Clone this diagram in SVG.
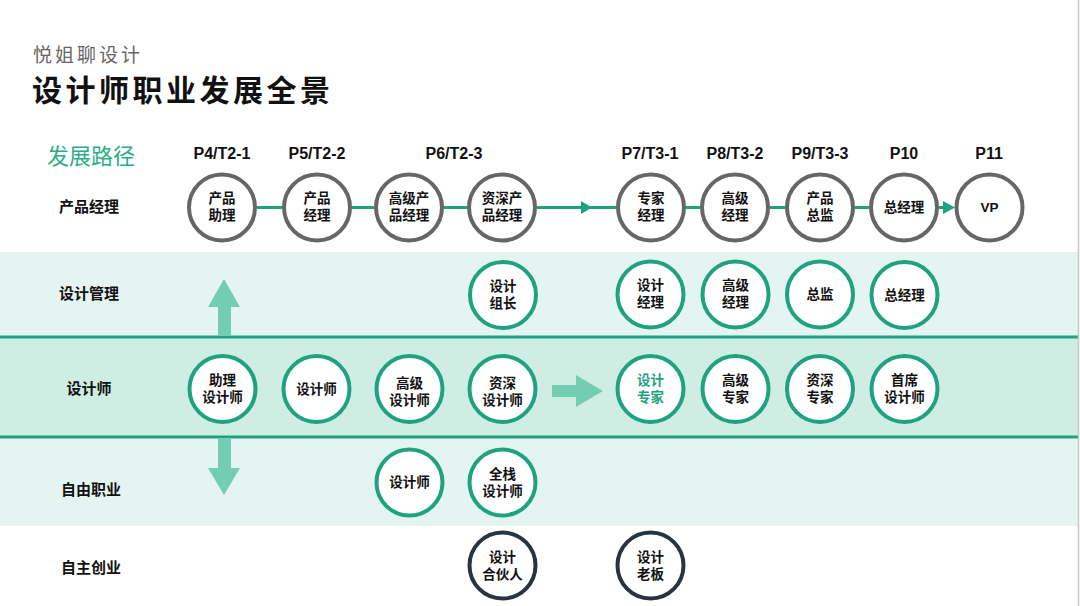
<svg xmlns="http://www.w3.org/2000/svg" width="1080" height="606" viewBox="0 0 1080 606">
<defs>
<style>
text{font-family:"Liberation Sans","Noto Sans CJK SC",sans-serif;}
.t{font-size:13.5px;font-weight:bold;fill:#111;text-anchor:middle;}
.hd{font-size:16px;font-weight:bold;fill:#111;text-anchor:middle;}
.rl{font-size:15px;font-weight:bold;fill:#111;text-anchor:middle;}
.pm{fill:#fff;stroke:#666;stroke-width:4;}
.ds{fill:#fff;stroke:#1FA37F;stroke-width:4;}
.bz{fill:#fff;stroke:#2A3440;stroke-width:4;}
.ln{stroke:#1FA37F;stroke-width:3;fill:none;}
.big{fill:#72CDB1;}
</style>
</defs>
<rect x="0" y="0" width="1080" height="606" fill="#fff"/>
<g id="bands">
<rect x="0" y="252" width="1078" height="274" fill="#E4F5F1"/>
<rect x="0" y="337" width="1078" height="100" fill="#D0EDE4"/>
<line x1="0" y1="337" x2="1078" y2="337" stroke="#1FA37F" stroke-width="3"/>
<line x1="0" y1="437" x2="1078" y2="437" stroke="#1FA37F" stroke-width="3"/>
<line x1="1078.5" y1="0" x2="1078.5" y2="606" stroke="#C8C8C8" stroke-width="1.5"/>
</g>
<g id="titles">
<text x="33" y="62" font-size="19" letter-spacing="3" fill="#666">悦姐聊设计</text>
<text x="32" y="101" font-size="30" letter-spacing="3.5" font-weight="bold" fill="#111">设计师职业发展全景</text>
<text x="47" y="164" font-size="22" fill="#2BAE86">发展路径</text>
</g>
<g id="headers">
<text class="hd" x="222" y="159">P4/T2-1</text>
<text class="hd" x="317" y="159">P5/T2-2</text>
<text class="hd" x="454" y="159">P6/T2-3</text>
<text class="hd" x="650" y="159">P7/T3-1</text>
<text class="hd" x="735" y="159">P8/T3-2</text>
<text class="hd" x="820" y="159">P9/T3-3</text>
<text class="hd" x="904" y="159">P10</text>
<text class="hd" x="989" y="159">P11</text>
</g>
<g id="rowlabels">
<text class="rl" x="89" y="212">产品经理</text>
<text class="rl" x="89" y="299">设计管理</text>
<text class="rl" x="89" y="394">设计师</text>
<text class="rl" x="91" y="495">自由职业</text>
<text class="rl" x="91" y="573">自主创业</text>
</g>
<g id="connectors">
<line class="ln" x1="257" y1="207.5" x2="282" y2="207.5"/>
<line class="ln" x1="352" y1="207.5" x2="374" y2="207.5"/>
<line class="ln" x1="444" y1="207.5" x2="467" y2="207.5"/>
<line class="ln" x1="537" y1="207.5" x2="616" y2="207.5"/>
<polygon points="581,201 592,207.5 581,214" fill="#1FA37F"/>
<line class="ln" x1="686" y1="207.5" x2="700" y2="207.5"/>
<line class="ln" x1="770" y1="207.5" x2="785" y2="207.5"/>
<line class="ln" x1="855" y1="207.5" x2="869" y2="207.5"/>
<line class="ln" x1="939" y1="207.5" x2="946" y2="207.5"/>
<polygon points="943,201 955,207.5 943,214" fill="#1FA37F"/>
<polygon class="big" points="218,336 218,307 208,307 224,279 240,307 231,307 231,336"/>
<polygon class="big" points="218,439 231,439 231,468 240,468 224,495 208,468 218,468"/>
<polygon class="big" points="552,385 576,385 576,375 603,391 576,407 576,397 552,397"/>
</g>
<g id="n-pm1"><circle class="pm" cx="222" cy="207.5" r="33"/><text class="t" x="222" y="203">产品</text><text class="t" x="222" y="220">助理</text></g>
<g id="n-pm2"><circle class="pm" cx="317" cy="207.5" r="33"/><text class="t" x="317" y="203">产品</text><text class="t" x="317" y="220">经理</text></g>
<g id="n-pm3"><circle class="pm" cx="409" cy="207.5" r="33"/><text class="t" x="409" y="203">高级产</text><text class="t" x="409" y="220">品经理</text></g>
<g id="n-pm4"><circle class="pm" cx="502" cy="207.5" r="33"/><text class="t" x="502" y="203">资深产</text><text class="t" x="502" y="220">品经理</text></g>
<g id="n-pm5"><circle class="pm" cx="651" cy="207.5" r="33"/><text class="t" x="651" y="203">专家</text><text class="t" x="651" y="220">经理</text></g>
<g id="n-pm6"><circle class="pm" cx="735" cy="207.5" r="33"/><text class="t" x="735" y="203">高级</text><text class="t" x="735" y="220">经理</text></g>
<g id="n-pm7"><circle class="pm" cx="820" cy="207.5" r="33"/><text class="t" x="820" y="203">产品</text><text class="t" x="820" y="220">总监</text></g>
<g id="n-pm8"><circle class="pm" cx="904" cy="207.5" r="33"/><text class="t" x="904" y="212">总经理</text></g>
<g id="n-pm9"><circle class="pm" cx="989.5" cy="207.5" r="33"/><text class="t" x="989.5" y="212">VP</text></g>
<g id="n-dm1"><circle class="ds" cx="503" cy="295" r="33"/><text class="t" x="503" y="291">设计</text><text class="t" x="503" y="308">组长</text></g>
<g id="n-dm2"><circle class="ds" cx="650.5" cy="294.5" r="33"/><text class="t" x="650.5" y="290">设计</text><text class="t" x="650.5" y="307">经理</text></g>
<g id="n-dm3"><circle class="ds" cx="735.5" cy="294.5" r="33"/><text class="t" x="735.5" y="290">高级</text><text class="t" x="735.5" y="307">经理</text></g>
<g id="n-dm4"><circle class="ds" cx="820" cy="294.5" r="33"/><text class="t" x="820" y="299">总监</text></g>
<g id="n-dm5"><circle class="ds" cx="904.5" cy="295" r="33"/><text class="t" x="904.5" y="300">总经理</text></g>
<g id="n-d1"><circle class="ds" cx="222.5" cy="389" r="33"/><text class="t" x="222.5" y="385">助理</text><text class="t" x="222.5" y="402">设计师</text></g>
<g id="n-d2"><circle class="ds" cx="316.5" cy="389" r="33"/><text class="t" x="316.5" y="394">设计师</text></g>
<g id="n-d3"><circle class="ds" cx="409.5" cy="389" r="33"/><text class="t" x="409.5" y="388">高级</text><text class="t" x="409.5" y="405">设计师</text></g>
<g id="n-d4"><circle class="ds" cx="502.5" cy="389" r="33"/><text class="t" x="502.5" y="388">资深</text><text class="t" x="502.5" y="405">设计师</text></g>
<g id="n-d5"><circle class="ds" cx="650.5" cy="389" r="33"/><text class="t" x="650.5" y="385" style="fill:#1FA37F">设计</text><text class="t" x="650.5" y="402" style="fill:#1FA37F">专家</text></g>
<g id="n-d6"><circle class="ds" cx="735.5" cy="389" r="33"/><text class="t" x="735.5" y="385">高级</text><text class="t" x="735.5" y="402">专家</text></g>
<g id="n-d7"><circle class="ds" cx="820" cy="389" r="33"/><text class="t" x="820" y="385">资深</text><text class="t" x="820" y="402">专家</text></g>
<g id="n-d8"><circle class="ds" cx="904.5" cy="389" r="33"/><text class="t" x="904.5" y="385">首席</text><text class="t" x="904.5" y="402">设计师</text></g>
<g id="n-f1"><circle class="ds" cx="409.5" cy="482.5" r="33"/><text class="t" x="409.5" y="487">设计师</text></g>
<g id="n-f2"><circle class="ds" cx="502.5" cy="482.5" r="33"/><text class="t" x="502.5" y="479">全栈</text><text class="t" x="502.5" y="496">设计师</text></g>
<g id="n-b1"><circle class="bz" cx="502.5" cy="565.5" r="33"/><text class="t" x="502.5" y="562">设计</text><text class="t" x="502.5" y="579">合伙人</text></g>
<g id="n-b2"><circle class="bz" cx="650.5" cy="565.5" r="33"/><text class="t" x="650.5" y="562">设计</text><text class="t" x="650.5" y="579">老板</text></g>
</svg>
